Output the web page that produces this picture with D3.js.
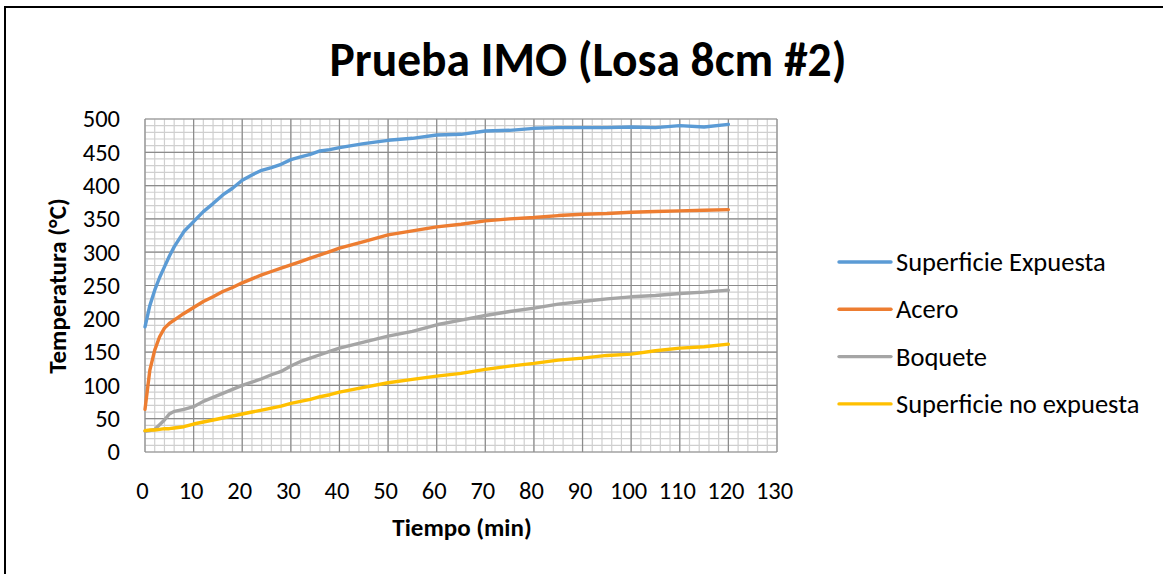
<!DOCTYPE html>
<html>
<head>
<meta charset="utf-8">
<script src="https://cdn.jsdelivr.net/npm/d3@7"></script>
<style>
  body { margin: 0; background: #fff; }
  svg text { font-family: Carlito, "Open Sans", "Liberation Sans", sans-serif; fill: #000; }
</style>
</head>
<body>
<div id="chart"></div>
<script>
// values (min / degC)
var tiempo = [0,1,2,3,4,5,6,8,10,12,14,16,18,20,22,24,26,28,30,32,34,36,38,40,45,50,55,60,65,70,75,80,85,90,95,100,105,110,115,120];
var expuesta = [188,220,243,262,278,294,308,331,346,361,373,386,396,408,416,423,427,432,439,443,447,452,454,457,463,468,471,476,477,482,483,486,487,487,487,488,487,490,488,492];
var acero = [64,123,153,173,186,193,198,208,217,226,233,241,247,254,260,266,271,276,281,286,291,296,301,306,316,326,332,338,342,347,350,352,355,357,358,360,361,362,363,364];
var boquete = [31,32,34,41,48,57,61,64,68,76,82,88,94,100,105,110,116,121,129,136,141,146,151,156,165,174,181,191,198,205,211,216,222,226,230,233,235,238,240,243];
var noExpuesta = [32,33,33,34,35,35,36,38,42,45,48,51,54,57,60,63,66,69,73,76,79,83,86,90,97,104,109,114,118,124,129,133,138,141,145,147,152,156,158,162];

var nombres = ["Superficie Expuesta", "Acero", "Boquete", "Superficie no expuesta"];
var colores = ["#5B9BD5", "#ED7D31", "#A5A5A5", "#FFC000"];
var xTicks = d3.range(0, 131, 10);
var yTicks = d3.range(0, 501, 50);

var W = 1163, H = 574;
var svg = d3.select("#chart").append("svg").attr("width", W).attr("height", H);

// outer chart border (runs off right / bottom)
svg.append("rect").attr("x", 5).attr("y", 7).attr("width", W).attr("height", H)
   .attr("fill", "none").attr("stroke", "#000").attr("stroke-width", 2);

var x = d3.scaleLinear().domain([0, 130]).range([145, 777]);
var y = d3.scaleLinear().domain([0, 500]).range([452, 119]);

// minor grid
var g = svg.append("g");
g.selectAll("line.vmin").data(d3.range(0, 131, 2)).enter().append("line")
  .attr("x1", d => x(d)).attr("x2", d => x(d)).attr("y1", y(0)).attr("y2", y(500))
  .attr("stroke", "#cfcfcf").attr("stroke-width", 1.2);
g.selectAll("line.hmin").data(d3.range(0, 501, 10)).enter().append("line")
  .attr("y1", d => y(d)).attr("y2", d => y(d)).attr("x1", x(0)).attr("x2", x(130))
  .attr("stroke", "#cfcfcf").attr("stroke-width", 1.2);
// major grid
g.selectAll("line.vmaj").data(xTicks).enter().append("line")
  .attr("x1", d => x(d)).attr("x2", d => x(d)).attr("y1", y(0)).attr("y2", y(500))
  .attr("stroke", "#8c8c8c").attr("stroke-width", 1.2);
g.selectAll("line.hmaj").data(yTicks).enter().append("line")
  .attr("y1", d => y(d)).attr("y2", d => y(d)).attr("x1", x(0)).attr("x2", x(130))
  .attr("stroke", "#8c8c8c").attr("stroke-width", 1.2);

// axes labels (no domain lines, Excel style)
var xAxis = svg.append("g").attr("transform", "translate(-3," + y(0) + ")")
  .call(d3.axisBottom(x).tickValues(xTicks).tickSize(0).tickPadding(30));
var yAxis = svg.append("g").attr("transform", "translate(" + x(0) + ",0)")
  .call(d3.axisLeft(y).tickValues(yTicks).tickSize(0).tickPadding(25));
[xAxis, yAxis].forEach(function(a){
  a.select(".domain").remove();
  a.selectAll("text").attr("font-size", 24.5).attr("fill", "#000")
    .attr("font-family", "Carlito, 'Open Sans', 'Liberation Sans', sans-serif");
});

// series
var series = [expuesta, acero, boquete, noExpuesta];
var line = d3.line().x(d => x(d[0])).y(d => y(d[1]));
series.forEach(function(s, i){
  svg.append("path").datum(d3.zip(tiempo, s))
    .attr("d", line).attr("fill", "none")
    .attr("stroke", colores[i]).attr("stroke-width", 3.4)
    .attr("stroke-linejoin", "round").attr("stroke-linecap", "round");
});

// titles
svg.append("text").attr("x", 588).attr("y", 76).attr("text-anchor", "middle")
  .attr("font-size", 47.5).attr("font-weight", "bold").text("Prueba IMO (Losa 8cm #2)");
svg.append("text").attr("x", 462).attr("y", 536).attr("text-anchor", "middle")
  .attr("font-size", 25).attr("font-weight", "bold").text("Tiempo (min)");
svg.append("text").attr("transform", "translate(66,286) rotate(-90)").attr("text-anchor", "middle")
  .attr("font-size", 25).attr("font-weight", "bold").text("Temperatura (°C)");

// legend
var leg = svg.append("g");
nombres.forEach(function(n, i){
  var ly = 262 + i * 47.3;
  leg.append("line").attr("x1", 839).attr("x2", 891).attr("y1", ly).attr("y2", ly)
    .attr("stroke", colores[i]).attr("stroke-width", 3.4).attr("stroke-linecap", "round");
  leg.append("text").attr("x", 896).attr("y", ly + 9).attr("font-size", 26.5).text(n);
});
</script>
</body>
</html>
